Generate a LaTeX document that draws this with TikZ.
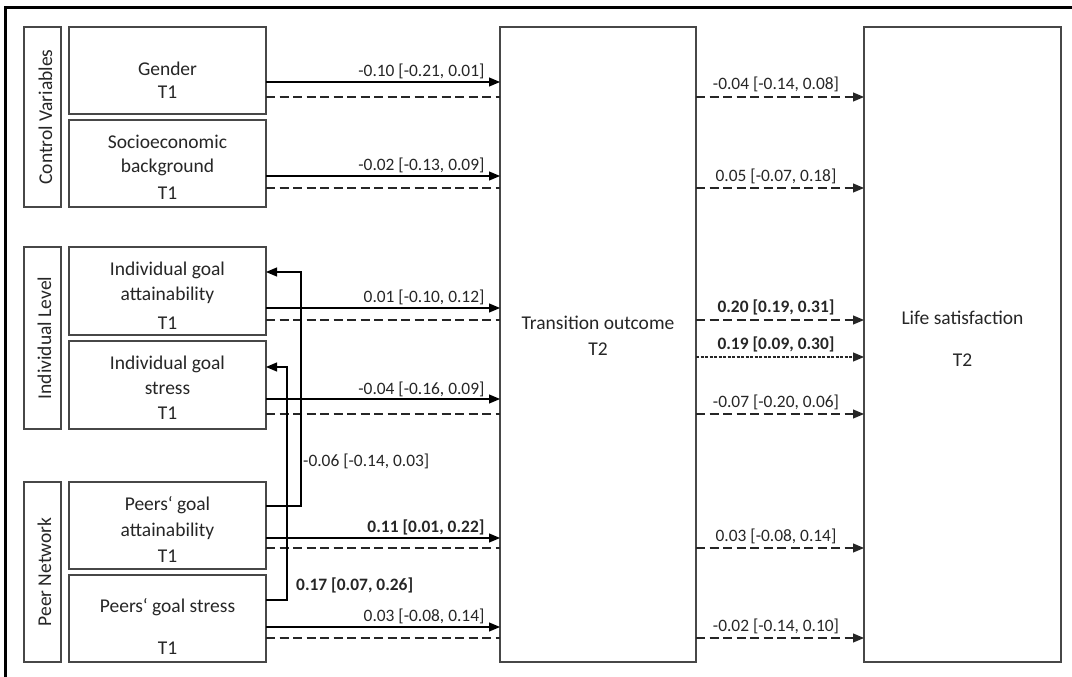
\documentclass[tikz,border=0pt]{standalone}
\usepackage{fontspec}
\setmainfont{Carlito}
\usetikzlibrary{arrows.meta}
\definecolor{edgegray}{HTML}{474747}
\definecolor{ink}{HTML}{262626}
\tikzset{
  box/.style={draw=edgegray, line width=1.4pt, inner sep=0pt, outer sep=0pt, fill=white},
  grp/.style={draw=edgegray, line width=1.4pt, inner sep=0pt, outer sep=0pt, minimum width=37pt},
  btxt/.style={text=ink, font=\fontsize{19.5}{24}\selectfont, inner sep=0pt, anchor=base},
  gtxt/.style={text=ink, font=\fontsize{19.5}{24}\selectfont, inner sep=0pt, anchor=base, rotate=90},
  lbl/.style={text=ink, font=\fontsize{17.4}{21}\selectfont, inner sep=0pt},
  sol/.style={draw=black, line width=1.1pt},
  solarr/.style={sol, -{Triangle[length=11pt,width=9pt]}},
  dsh/.style={draw=black!85, line width=1.1pt, dash pattern=on 9pt off 4.5pt},
  dsharr/.style={dsh, -{Triangle[length=11pt,width=9pt]}},
  fine/.style={draw=black!85, line width=1.1pt, dash pattern=on 3pt off 1.5pt, -{Triangle[length=11pt,width=9pt]}}
}
\begin{document}
\begin{tikzpicture}[x=1pt,y=-1pt]
\useasboundingbox (0,0) rectangle (1072,677);
\fill[white] (0,0) rectangle (1072,677);
% partial outer frame
\draw[line width=3pt] (5.7,677) -- (5.7,8) -- (1072,8);

% group labels
\node[grp, minimum height=180pt] (cv) at (42.5,117) {};
\node[gtxt] (cvt) at (52,117) {Control Variables};
\node[grp, minimum height=182pt] (il) at (42.5,338) {};
\node[gtxt] (ilt) at (51,338) {Individual Level};
\node[grp, minimum height=180pt] (pn) at (42.5,572) {};
\node[gtxt] (pnt) at (51,572) {Peer Network};

% predictor boxes
\node[box, minimum width=197pt, minimum height=87pt] (gender) at (167.5,70.5) {};
\node[btxt] at (167.5,76) {Gender};
\node[btxt] at (167.5,99) {T1};

\node[box, minimum width=197pt, minimum height=87pt] (socio) at (167.5,163.5) {};
\node[btxt] at (167.5,149) {Socioeconomic};
\node[btxt] at (167.5,172.5) {background};
\node[btxt] at (167.5,199) {T1};

\node[box, minimum width=197pt, minimum height=88pt] (iga) at (167.5,291) {};
\node[btxt] at (167.5,275.5) {Individual goal};
\node[btxt] at (167.5,300.5) {attainability};
\node[btxt] at (167.5,329) {T1};

\node[box, minimum width=197pt, minimum height=88pt] (igs) at (167.5,385) {};
\node[btxt] at (167.5,369) {Individual goal};
\node[btxt] at (167.5,394) {stress};
\node[btxt] at (167.5,419) {T1};

\node[box, minimum width=197pt, minimum height=87pt] (pga) at (167.5,525.5) {};
\node[btxt] at (167.5,510) {Peers‘ goal};
\node[btxt] at (167.5,536) {attainability};
\node[btxt] at (167.5,562) {T1};

\node[box, minimum width=197pt, minimum height=87pt] (pgs) at (167.5,618.5) {};
\node[btxt] at (167.5,612) {Peers‘ goal stress};
\node[btxt] at (167.5,654) {T1};

% outcome boxes
\node[box, minimum width=196pt, minimum height=635pt] (trans) at (598,344.5) {};
\node[btxt] at (598,329) {Transition outcome};
\node[btxt] at (598,355) {T2};

\node[box, minimum width=197pt, minimum height=635pt] (life) at (962.5,344.5) {};
\node[btxt] at (962.5,324) {Life satisfaction};
\node[btxt] at (962.5,366) {T2};

% direct paths to transition outcome
\draw[solarr] (gender.east |- 0,82) -- node[lbl, pos=1, anchor=base east, xshift=-15pt, yshift=5.5pt] {-0.10 [-0.21, 0.01]} (trans.west |- 0,82);
\draw[dsh] (gender.east |- 0,97) -- (trans.west |- 0,97);
\draw[solarr] (socio.east |- 0,176) -- node[lbl, pos=1, anchor=base east, xshift=-15pt, yshift=5.5pt] {-0.02 [-0.13, 0.09]} (trans.west |- 0,176);
\draw[dsh] (socio.east |- 0,188) -- (trans.west |- 0,188);
\draw[solarr] (iga.east |- 0,308) -- node[lbl, pos=1, anchor=base east, xshift=-15pt, yshift=5.5pt] {0.01 [-0.10, 0.12]} (trans.west |- 0,308);
\draw[dsh] (iga.east |- 0,320) -- (trans.west |- 0,320);
\draw[solarr] (igs.east |- 0,399) -- node[lbl, pos=1, anchor=base east, xshift=-15pt, yshift=5pt] {-0.04 [-0.16, 0.09]} (trans.west |- 0,399);
\draw[dsh] (igs.east |- 0,414) -- (trans.west |- 0,414);
\draw[solarr] (pga.east |- 0,538) -- node[lbl, pos=1, anchor=base east, xshift=-15pt, yshift=6pt] {\textbf{0.11 [0.01, 0.22]}} (trans.west |- 0,538);
\draw[dsh] (pga.east |- 0,548) -- (trans.west |- 0,548);
\draw[solarr] (pgs.east |- 0,627) -- node[lbl, pos=1, anchor=base east, xshift=-15pt, yshift=6pt] {0.03 [-0.08, 0.14]} (trans.west |- 0,627);
\draw[dsh] (pgs.east |- 0,638) -- (trans.west |- 0,638);

% peer -> individual paths
\draw[solarr] (pga.east |- 0,506) -| (301,272) -- (iga.east |- 0,272);
\node[lbl, anchor=base west] (l06) at (303,466) {-0.06 [-0.14, 0.03]};
\draw[solarr] (pgs.east |- 0,600) -| (287,367) -- (igs.east |- 0,367);
\node[lbl, anchor=base west] (l17) at (296,590) {\textbf{0.17 [0.07, 0.26]}};

% paths to life satisfaction
\draw[dsharr] (trans.east |- 0,97) -- node[lbl, midway, anchor=base, xshift=-4pt, yshift=7pt] {-0.04 [-0.14, 0.08]} (life.west |- 0,97);
\draw[dsharr] (trans.east |- 0,188) -- node[lbl, midway, anchor=base, xshift=-4pt, yshift=7pt] {0.05 [-0.07, 0.18]} (life.west |- 0,188);
\draw[dsharr] (trans.east |- 0,320) -- node[lbl, midway, anchor=base, xshift=-4pt, yshift=8pt] {\textbf{0.20 [0.19, 0.31]}} (life.west |- 0,320);
\draw[fine] (trans.east |- 0,357) -- node[lbl, midway, anchor=base, xshift=-4pt, yshift=8pt] {\textbf{0.19 [0.09, 0.30]}} (life.west |- 0,357);
\draw[dsharr] (trans.east |- 0,414) -- node[lbl, midway, anchor=base, xshift=-4pt, yshift=7pt] {-0.07 [-0.20, 0.06]} (life.west |- 0,414);
\draw[dsharr] (trans.east |- 0,548) -- node[lbl, midway, anchor=base, xshift=-4pt, yshift=7pt] {0.03 [-0.08, 0.14]} (life.west |- 0,548);
\draw[dsharr] (trans.east |- 0,638) -- node[lbl, midway, anchor=base, xshift=-4pt, yshift=7pt] {-0.02 [-0.14, 0.10]} (life.west |- 0,638);
\end{tikzpicture}
\end{document}
